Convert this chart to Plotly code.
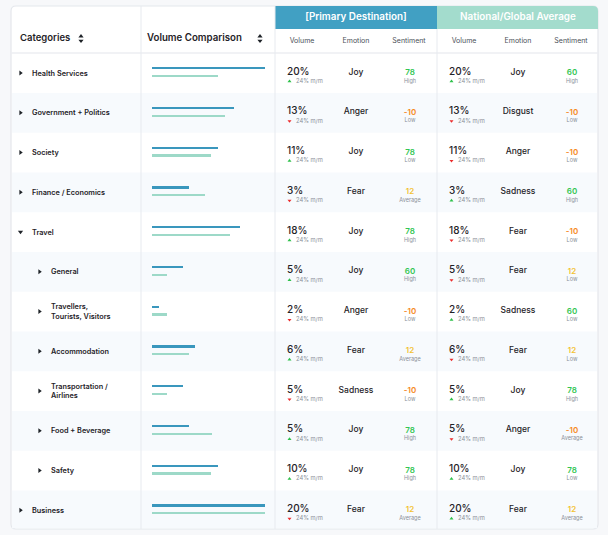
import plotly.graph_objects as go

# ---------------- data ----------------
categories = ["Health Services", "Government + Politics", "Society", "Finance / Economics",
              "Travel", "General", "Travellers,<br>Tourists, Visitors", "Accommodation",
              "Transportation /<br>Airlines", "Food + Beverage", "Safety", "Business"]
levels = [0, 0, 0, 0, 0, 1, 1, 1, 1, 1, 1, 0]
expanded = [False, False, False, False, True, False, False, False, False, False, False, False]

bar_primary = [100, 73, 58, 33, 78, 27, 6, 38, 27, 33, 58, 100]
bar_national = [58, 65, 52, 47, 69, 13, 13, 33, 13, 53, 52, 100]

p_volume = [20, 13, 11, 3, 18, 5, 2, 6, 5, 5, 10, 20]
p_trend = ["up", "down", "up", "down", "up", "up", "down", "up", "down", "up", "up", "down"]
p_emotion = ["Joy", "Anger", "Joy", "Fear", "Joy", "Joy", "Anger", "Fear", "Sadness", "Joy", "Joy", "Fear"]
p_sent = [78, -10, 78, 12, 78, 60, -10, 12, -10, 78, 78, 12]
p_label = ["High", "Low", "Low", "Average", "High", "High", "Low", "Average", "Low", "High", "High", "Average"]

n_volume = [20, 13, 11, 3, 18, 5, 2, 6, 5, 5, 10, 20]
n_trend = ["up", "down", "down", "up", "down", "down", "up", "down", "up", "down", "up", "up"]
n_emotion = ["Joy", "Disgust", "Anger", "Sadness", "Fear", "Fear", "Sadness", "Fear", "Joy", "Anger", "Joy", "Fear"]
n_sent = [60, -10, -10, 60, -10, 12, 60, 12, 78, -10, 78, 12]
n_label = ["High", "Low", "Low", "High", "Low", "Low", "Low", "Low", "High", "Average", "Low", "Average"]

trend_text = "24% m/m"
sub_headers = ["Volume", "Emotion", "Sentiment"]
group_titles = ["[Primary Destination]", "National/Global Average"]

# ---------------- style / layout ----------------
W, H = 608, 535
ROW_H = 39.75
Y0 = 73.0
FONT = "Inter"
DARK = "#1f2328"
GREY = "#8a8f98"
BLUE = "#3a97bd"
TEAL = "#9dd9c8"
HEAD_BLUE = "#41a0c3"
HEAD_TEAL = "#a3dccd"
ROW_ALT = "#f7fafd"
LINE = "#e7eaef"
PAGE_BG = "#f7f8fa"


def py(p):
    """pixel row -> row units"""
    return (p - Y0) / ROW_H


def sent_color(v):
    if v >= 50:
        return "#33c653"
    if v >= 0:
        return "#f3c232"
    return "#f68a1e"


n = len(categories)
rows = list(range(n))
CARD_L, CARD_R, CARD_T, CARD_B = 11, 598, 6, 529
COL1, COL2, COL3 = 141, 275, 437

fig = go.Figure()
shapes = []

# card
r = 5
rt = r / ROW_H
t, b = py(CARD_T), py(CARD_B)
card_path = (f"M {CARD_L + r},{t} L {CARD_R - r},{t} Q {CARD_R},{t} {CARD_R},{t + rt} "
             f"L {CARD_R},{b - rt} Q {CARD_R},{b} {CARD_R - r},{b} L {CARD_L + r},{b} "
             f"Q {CARD_L},{b} {CARD_L},{b - rt} L {CARD_L},{t + rt} Q {CARD_L},{t} {CARD_L + r},{t} Z")
shapes.append(dict(type="path", path=card_path, xref="x", yref="y", fillcolor="white",
                   line=dict(color="#e4e7ec", width=1.2), layer="below"))

# alternating row backgrounds
for i in rows:
    if i % 2 == 1:
        shapes.append(dict(type="rect", xref="x", yref="y", x0=CARD_L + 1, x1=CARD_R - 1,
                           y0=i - 0.5, y1=min(i + 0.5, b - 0.02), fillcolor=ROW_ALT,
                           line=dict(width=0), layer="below"))

# header bands
hb_t, hb_b = py(6), py(29)
shapes.append(dict(type="rect", xref="x", yref="y", x0=COL2, x1=COL3, y0=hb_t, y1=hb_b,
                   fillcolor=HEAD_BLUE, line=dict(width=0), layer="below"))
shapes.append(dict(type="path", xref="x", yref="y",
                   path=(f"M {COL3},{hb_t} L {CARD_R - r},{hb_t} Q {CARD_R},{hb_t} {CARD_R},{hb_t + rt} "
                         f"L {CARD_R},{hb_b} L {COL3},{hb_b} Z"),
                   fillcolor=HEAD_TEAL, line=dict(width=0), layer="below"))

# lines
shapes.append(dict(type="line", xref="x", yref="y", x0=CARD_L, x1=CARD_R, y0=py(53), y1=py(53),
                   line=dict(color="#eceef2", width=1.5), layer="below"))
for xc, top in [(COL1, py(6)), (COL2, py(6)), (COL3, py(29))]:
    shapes.append(dict(type="line", xref="x", yref="y", x0=xc, x1=xc, y0=top, y1=b,
                       line=dict(color=LINE, width=1), layer="below"))

# ---------------- volume comparison bars ----------------
fig.add_trace(go.Bar(orientation="h", x=bar_primary, y=[i - 0.12 for i in rows], width=0.06,
                     marker=dict(color=BLUE, line=dict(width=0)), xaxis="x2", yaxis="y",
                     hoverinfo="skip", showlegend=False))
fig.add_trace(go.Bar(orientation="h", x=bar_national, y=[i + 0.075 for i in rows], width=0.06,
                     marker=dict(color=TEAL, line=dict(width=0)), xaxis="x2", yaxis="y",
                     hoverinfo="skip", showlegend=False))


def text_trace(x, y, text, size, color, weight=400, pos="middle right"):
    fig.add_trace(go.Scatter(x=x, y=y, text=text, mode="text", textposition=pos,
                             textfont=dict(family=FONT, size=size, color=color, weight=weight),
                             hoverinfo="skip", showlegend=False, cliponaxis=False))


def marker_trace(x, y, symbols, colors, size):
    fig.add_trace(go.Scatter(x=x, y=y, mode="markers",
                             marker=dict(symbol=symbols, color=colors, size=size, line=dict(width=0)),
                             hoverinfo="skip", showlegend=False, cliponaxis=False))


# ---------------- header text ----------------
text_trace([20], [py(38.5)], ["Categories"], 9.5, DARK, 600)
text_trace([147], [py(38.5)], ["Volume Comparison"], 9.7, DARK, 600)
marker_trace([81, 81, 260, 260], [py(36.3), py(40.8), py(36.3), py(40.8)],
             ["triangle-up", "triangle-down", "triangle-up", "triangle-down"], [DARK] * 4, 4.5)
text_trace([356, 518], [py(18), py(18)], group_titles, 9.9, "white", 600, "middle center")
for cx in [(302, 356, 409), (464, 518, 571)]:
    text_trace(list(cx), [py(41)] * 3, sub_headers, 7, "#4a4f57", 400, "middle center")

# ---------------- category column ----------------
arrow_x = [20.5 + 19 * lv for lv in levels]
label_x = [32 + 19 * lv for lv in levels]
marker_trace(arrow_x, rows, ["triangle-down" if e else "triangle-right" for e in expanded],
             [DARK] * n, 4.5)
text_trace(label_x, [i + 0.02 for i in rows], categories, 7.3, DARK, 600)

# ---------------- destination blocks ----------------
for base, vol, trend, emo, sent, lab in [
        (0, p_volume, p_trend, p_emotion, p_sent, p_label),
        (162, n_volume, n_trend, n_emotion, n_sent, n_label)]:
    text_trace([287 + base] * n, [i - 0.02 for i in rows], [f"{v}%" for v in vol], 10, DARK, 500)
    marker_trace([289.5 + base] * n, [i + 0.21 for i in rows],
                 ["triangle-up" if tr == "up" else "triangle-down" for tr in trend],
                 ["#2fc14b" if tr == "up" else "#ec2b2b" for tr in trend], 3.5)
    text_trace([296 + base] * n, [i + 0.21 for i in rows], [trend_text] * n, 5.8, GREY, 400)
    text_trace([356 + base] * n, [i - 0.01 for i in rows], emo, 8.5, DARK, 500, "middle center")
    fig.add_trace(go.Scatter(x=[410 + base] * n, y=[i for i in rows], text=[str(s) for s in sent],
                             mode="text", textposition="middle center",
                             textfont=dict(family=FONT, size=8, color=[sent_color(s) for s in sent], weight=600),
                             hoverinfo="skip", showlegend=False, cliponaxis=False))
    text_trace([410 + base] * n, [i + 0.21 for i in rows], lab, 5.5, GREY, 400, "middle center")

fig.update_layout(
    width=W, height=H, margin=dict(l=0, r=0, t=0, b=0),
    paper_bgcolor=PAGE_BG, plot_bgcolor="rgba(0,0,0,0)",
    shapes=shapes, barmode="overlay", bargap=0,
    xaxis=dict(range=[0, W], domain=[0, 1], visible=False, fixedrange=True),
    xaxis2=dict(range=[0, 100], domain=[152 / W, 265 / W], anchor="y", visible=False, fixedrange=True),
    yaxis=dict(range=[py(H), py(0)], domain=[0, 1], visible=False, fixedrange=True),
    font=dict(family=FONT),
)

fig.write_html("out.html", config=dict(displayModeBar=False),
               post_script=f"document.body.style.margin='0';document.body.style.overflow='hidden';"
                           f"document.body.style.background='{PAGE_BG}';")
